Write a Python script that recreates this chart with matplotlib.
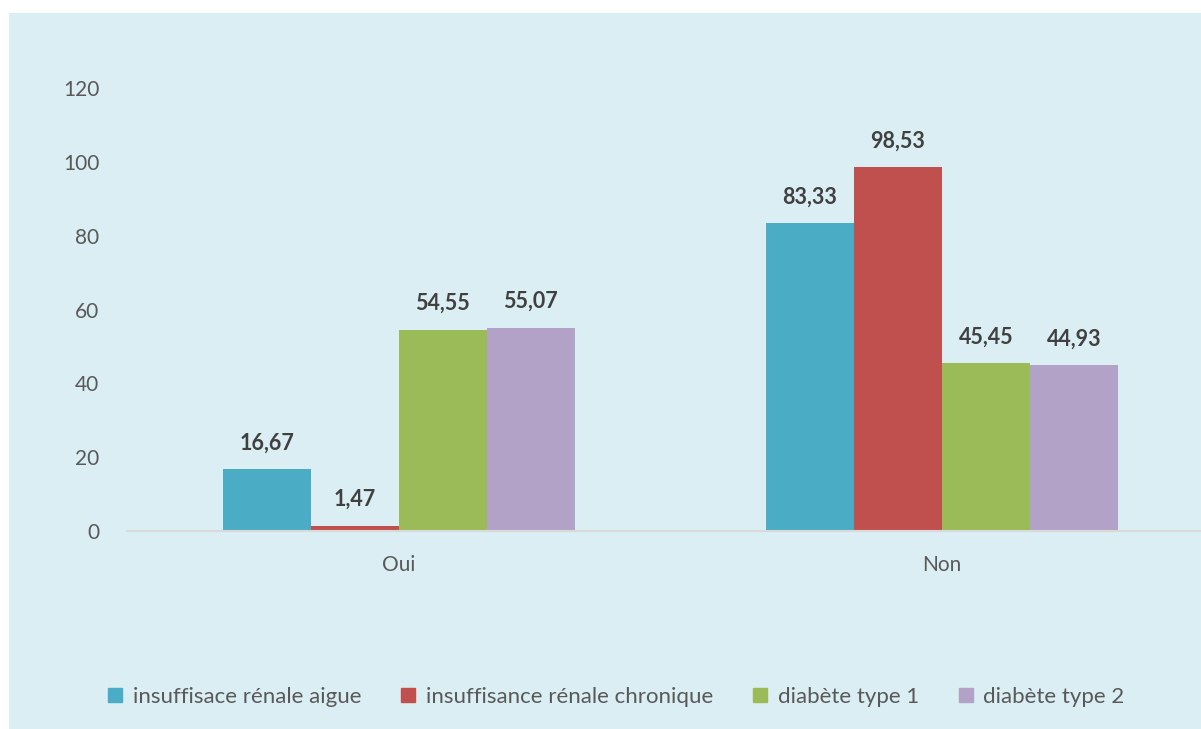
import matplotlib.pyplot as plt
from matplotlib.patches import Rectangle
from matplotlib.lines import Line2D
import numpy as np

categories = ['Oui', 'Non']
series = ['insuffisace rénale aigue', 'insuffisance rénale chronique',
          'diabète type 1', 'diabète type 2']
values = [
    [16.67, 83.33],   # insuffisace rénale aigue
    [1.47, 98.53],    # insuffisance rénale chronique
    [54.55, 45.45],   # diabète type 1
    [55.07, 44.93],   # diabète type 2
]
colors = ['#4BACC6', '#C0504D', '#9BBB59', '#B3A2C7']

plt.rcParams['font.family'] = ['Lato', 'DejaVu Sans']

W, H = 1201, 729
fig = plt.figure(figsize=(W / 100, H / 100), dpi=100)
fig.patch.set_facecolor('white')
fig.patches.append(Rectangle((9 / W, 0), 1, 1 - 13 / H, transform=fig.transFigure,
                             facecolor='#DAEEF3', edgecolor='none', zorder=-10))

# axes: left 127px, right edge of figure, y=0 at 531px, y=120 at 88px
ax = fig.add_axes([127 / W, 1 - 531 / H, (W - 127) / W, (531 - 88) / H])
ax.set_facecolor('none')

x = np.arange(len(categories))
w = 88 / 543
for i, (name, vals) in enumerate(zip(series, values)):
    pos = x + (i - 1.5) * w
    ax.bar(pos, vals, width=w, color=colors[i], label=name, zorder=2)
    for px, v in zip(pos, vals):
        ax.annotate(f'{v:.2f}'.replace('.', ','), (px, v), xytext=(0, 19),
                    textcoords='offset points', ha='center', va='center',
                    fontsize=15.5, fontweight='bold', color='#404040')

ax.set_xlim(-0.5, (W - 399) / 543)
ax.set_ylim(0, 120)
ax.set_yticks(range(0, 121, 20))
ax.set_xticks(x, categories)
ax.tick_params(axis='y', length=0, pad=20, labelsize=15, labelcolor='#595959')
ax.tick_params(axis='x', length=0, pad=17, labelsize=15, labelcolor='#595959')
for s in ['top', 'right', 'left']:
    ax.spines[s].set_visible(False)
ax.spines['bottom'].set_color('#D9D9D9')
ax.spines['bottom'].set_linewidth(1.5)

handles = [Line2D([], [], marker='s', linestyle='none', markersize=10,
                  markerfacecolor=c, markeredgecolor=c) for c in colors]
fig.legend(handles, series, loc='center', bbox_to_anchor=(0.513, 1 - 697 / H),
           ncol=4, frameon=False, fontsize=16, labelcolor='#595959',
           handlelength=0.7, handletextpad=0.45, columnspacing=1.75)

fig.savefig('out.png', dpi=100)
